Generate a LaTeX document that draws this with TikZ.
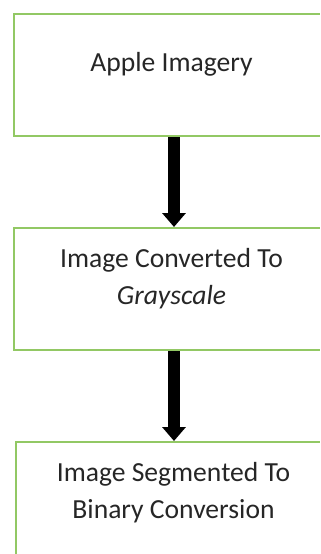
\documentclass[tikz,border=0pt]{standalone}
\usepackage{fontspec}
\setmainfont{Carlito}
\usetikzlibrary{positioning, arrows.meta}
\definecolor{boxgreen}{RGB}{146,200,100}

\begin{document}
\begin{tikzpicture}[
    font=\fontsize{13.8}{18.5}\selectfont,
    node distance=45pt,
    stage/.style={draw=boxgreen, line width=1pt, align=center,
                  text=black!85, minimum width=157.5pt, minimum height=61pt,
                  text depth=13pt},
    flow/.style={-{Triangle[width=11.5pt, length=7pt]}, line width=6pt, black},
  ]
  \path[use as bounding box] (0,0) rectangle (160.5pt,-277pt);
  \begin{scope}
    \clip (-1pt,1pt) rectangle (160pt,-278pt);
    \node[stage] (img) at (85.75pt,-37.5pt) {Apple Imagery};
    \node[stage, below=of img] (gray) {Image Converted To\\\textit{Grayscale}};
    \node[stage, below=of gray, xshift=1pt] (bin)
      {Image Segmented To\\Binary Conversion};
  \end{scope}
  \draw[flow] ([xshift=1.25pt]img.south) -- ([xshift=1.25pt]gray.north);
  \draw[flow] ([xshift=1.25pt]gray.south) -- ([xshift=1.25pt]gray.south |- bin.north);
\end{tikzpicture}
\end{document}
